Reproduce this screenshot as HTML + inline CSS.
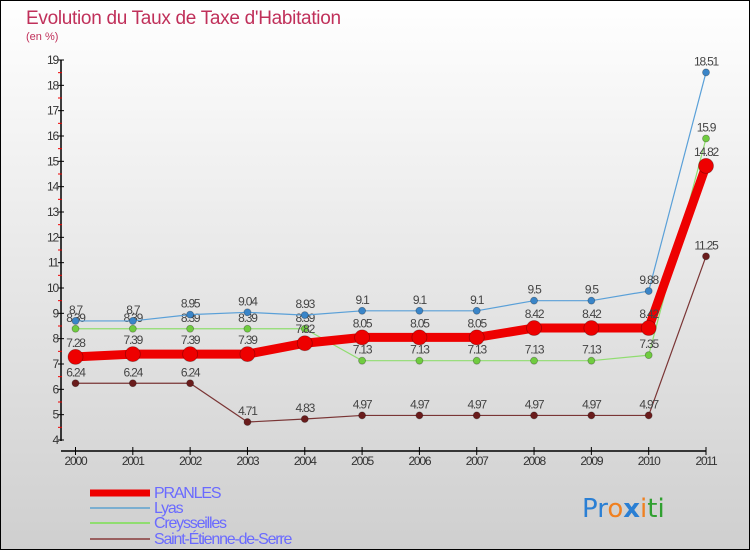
<!DOCTYPE html>
<html><head><meta charset="utf-8"><style>
body{margin:0}
svg{display:block;font-family:"Liberation Sans",sans-serif}
</style></head><body>
<svg id="c" width="750" height="550" viewBox="0 0 750 550">
<defs><linearGradient id="bg" x1="0" y1="0" x2="0" y2="1"><stop offset="0" stop-color="#ffffff"/><stop offset="1" stop-color="#cfcfcf"/></linearGradient></defs>
<rect x="0.5" y="0.5" width="749" height="549" fill="url(#bg)" stroke="#000"/>
<text x="26" y="24" font-size="19" fill="#c0305a" letter-spacing="-0.3">Evolution du Taux de Taxe d'Habitation</text>
<text x="26" y="40" font-size="11" fill="#c0305a">(en %)</text>
<g id="axes"></g><g id="series"></g><g id="legend"></g>
<text x="582" y="517" font-size="26" font-family="'DejaVu Sans',sans-serif"><tspan fill="#2a7fd4">Pr</tspan><tspan fill="#f08020">o</tspan><tspan fill="#2a7fd4" font-weight="bold">x</tspan><tspan fill="#f08020">i</tspan><tspan fill="#30a030">ti</tspan></text>
</svg>
<script>
const years=["2000","2001","2002","2003","2004","2005","2006","2007","2008","2009","2010","2011"];
const yTicks=[4,5,6,7,8,9,10,11,12,13,14,15,16,17,18,19];
const pranles=[7.28,7.39,7.39,7.39,7.82,8.05,8.05,8.05,8.42,8.42,8.42,14.82];
const lyas=[8.7,8.7,8.95,9.04,8.93,9.1,9.1,9.1,9.5,9.5,9.88,18.51];
const creysseilles=[8.39,8.39,8.39,8.39,8.39,7.13,7.13,7.13,7.13,7.13,7.35,15.9];
const saintEtienne=[6.24,6.24,6.24,4.71,4.83,4.97,4.97,4.97,4.97,4.97,4.97,11.25];
const NS="http://www.w3.org/2000/svg";
const X=i=>75.5+i*(706-75.5)/11;
const Y=v=>440-(v-4)*380/15;
function mk(t,a,p){const e=document.createElementNS(NS,t);for(const k in a)e.setAttribute(k,a[k]);p.appendChild(e);return e;}
const ax=document.getElementById('axes');
let e=mk('line',{x1:61,y1:Y(19),x2:61,y2:441,stroke:'#000','stroke-width':1.5},ax);


e=mk('line',{x1:61,y1:451,x2:706,y2:451,stroke:'#000','stroke-width':1.5},ax);


yTicks.forEach(v=>{
 mk('line',{x1:58,x2:64,y1:Y(v),y2:Y(v),stroke:'#000'},ax);
 if(v<19)mk('line',{x1:58,x2:62,y1:Y(v+0.5),y2:Y(v+0.5),stroke:'#e00'},ax);
 const t=mk('text',{x:58,y:Y(v)+4,'font-size':12,'text-anchor':'end',fill:'#333','letter-spacing':'-1.2'},ax);t.textContent=v;
 
 
});
years.forEach((y,i)=>{
 mk('line',{x1:X(i),x2:X(i),y1:447,y2:455,stroke:'#000'},ax);
 const t=mk('text',{x:X(i),y:465,'font-size':12,'text-anchor':'middle',fill:'#333','letter-spacing':'-1.2'},ax);t.textContent=y;
 
 
});
const sg=document.getElementById('series');
const defs=[
 {d:saintEtienne,c:'#7a3535',pc:'#6a1c1c',w:1.2,r:3.5,n:'saint-etienne-de-serre'},
 {d:creysseilles,c:'#90dd70',pc:'#70cc40',w:1.2,r:3.5,n:'creysseilles'},
 {d:lyas,c:'#5aa0d8',pc:'#3a85c8',w:1.2,r:3.5,n:'lyas'},
 {d:pranles,c:'#ee0000',pc:'#ee0000',w:9,r:7.5,n:'pranles'}];
defs.forEach(s=>{
 const g=mk('g',{},sg);
 
 
 const l=mk('polyline',{points:s.d.map((v,i)=>X(i)+','+Y(v)).join(' '),fill:'none',stroke:s.c,'stroke-width':s.w},g);
 
 
 s.d.forEach((v,i)=>{
  const p=mk('circle',{cx:X(i),cy:Y(v),r:s.r,fill:s.pc,stroke:'rgba(0,0,0,0.3)','stroke-width':0.8},g);
  
  
  const t=mk('text',{x:X(i),y:Y(v)-(s.w>5?10:7),'font-size':12,'text-anchor':'middle',fill:'#444','letter-spacing':'-1.2'},g);t.textContent=v;
  
  
 });
});
const lg=document.getElementById('legend');
const leg=[['PRANLES','#ee0000',7,492],['Lyas','#7aaed0',2,507],['Creysseilles','#90dd70',2,522],['Saint-Étienne-de-Serre','#9a6060',2,538]];
leg.forEach(([n,c,w,y])=>{
 const g=mk('g',{},lg);
 
 
 mk('line',{x1:90,x2:150,y1:y+1,y2:y+1,stroke:c,'stroke-width':w},g);
 const t=mk('text',{x:154,y:y+6,'font-size':16,fill:'#6a6aff','letter-spacing':'-1.2'},g);t.textContent=n;
});
</script>
</body></html>
